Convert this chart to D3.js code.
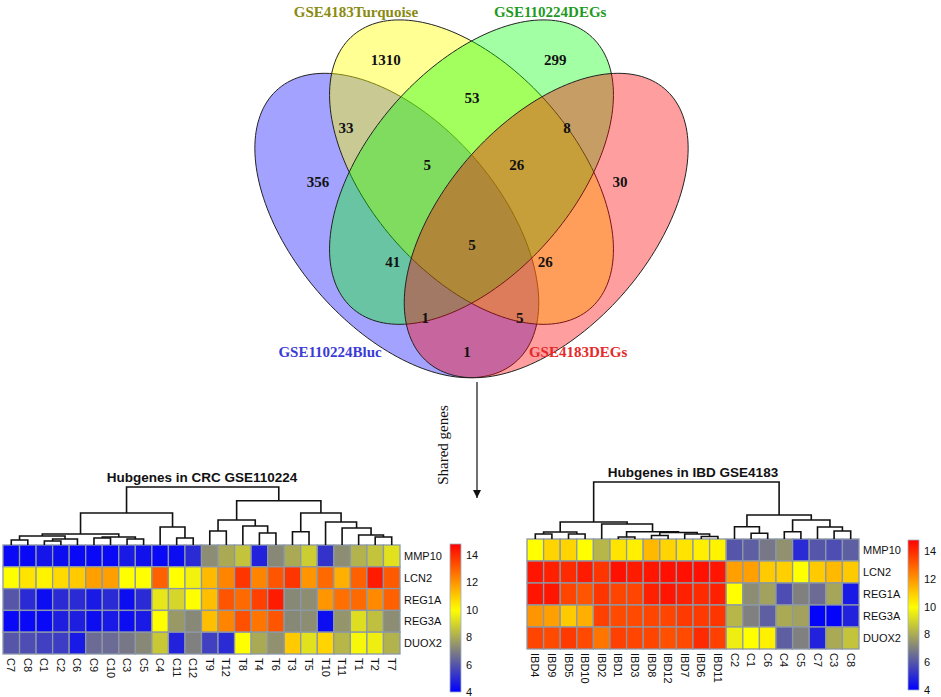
<!DOCTYPE html>
<html><head><meta charset="utf-8">
<script src="https://cdn.jsdelivr.net/npm/d3@7"></script>
<style>html,body{margin:0;padding:0;background:#fff;}svg{display:block;}</style>
</head><body>
<svg id="fig" width="941" height="697"></svg>
<script>
// ---------------- DATA ----------------
const vennSets = ["GSE110224Bluc", "GSE4183Turquoise", "GSE110224DEGs", "GSE4183DEGs"];
const vennRegions = ["A", "B", "C", "D", "AB", "BC", "CD", "ABC", "BCD", "ABCD", "AC", "BD", "ACD", "ABD", "AD"];
const vennCounts = [356, 1310, 299, 30, 33, 53, 8, 5, 26, 5, 41, 26, 1, 5, 1];

const genes = ["MMP10", "LCN2", "REG1A", "REG3A", "DUOX2"];
const crcSamples = ["C7","C8","C1","C2","C6","C9","C10","C3","C5","C4","C11","C12","T9","T12","T8","T4","T6","T3","T5","T10","T11","T1","T2","T7"];
const crcMMP10 = [4.2,4.2,4.5,4.3,4.2,4.2,4.2,4.6,4.4,4.2,4.3,5.0,7.3,8.0,8.6,4.8,7.2,8.0,8.8,5.2,7.3,8.2,8.6,9.3];
const crcLCN2  = [10.0,10.5,10.2,10.7,11.0,11.8,11.8,10.0,10.0,13.0,10.0,9.7,11.3,12.3,13.8,12.3,13.2,13.8,12.0,12.8,11.5,13.0,14.3,13.1];
const crcREG1A = [6.0,5.0,4.3,5.0,5.0,4.6,5.0,4.3,5.0,9.4,9.0,10.0,11.2,13.2,12.8,13.6,14.3,7.2,7.3,12.0,12.7,12.8,12.2,13.0];
const crcREG3A = [4.2,4.2,4.2,4.7,4.7,4.3,4.6,4.3,4.6,10.0,7.6,7.2,11.2,12.3,13.3,12.6,13.2,7.2,7.3,4.3,7.5,9.2,8.5,7.3];
const crcDUOX2 = [6.0,5.8,5.5,5.4,4.6,6.5,6.5,6.8,7.2,8.7,4.8,7.0,5.5,5.0,10.0,8.0,7.4,11.0,9.3,10.8,8.3,9.8,9.6,8.2];

const ibdSamples = ["IBD4","IBD9","IBD5","IBD10","IBD2","IBD1","IBD3","IBD8","IBD12","IBD7","IBD6","IBD11","C2","C1","C6","C4","C5","C7","C3","C8"];
const ibdMMP10 = [10.0,10.8,10.8,10.0,8.3,10.5,10.3,11.3,10.8,10.5,10.3,10.2,6.0,6.2,6.8,7.4,5.0,6.0,5.8,6.2];
const ibdLCN2  = [14.4,14.2,14.0,14.3,13.8,14.5,14.3,14.4,14.5,14.5,14.5,14.4,11.8,11.8,11.0,10.9,10.0,11.0,11.3,11.0];
const ibdREG1A = [14.4,14.4,13.5,13.2,13.8,13.5,13.5,14.2,14.4,14.2,14.0,14.2,10.0,7.3,7.8,5.8,7.0,6.5,7.9,4.6];
const ibdREG3A = [12.0,11.8,11.0,11.5,13.6,13.4,13.4,13.5,13.5,13.7,13.7,13.8,8.3,7.0,6.2,8.0,7.8,4.1,4.1,4.8];
const ibdDUOX2 = [13.5,13.4,13.7,13.4,12.6,13.6,13.5,13.5,13.3,13.4,14.0,13.6,9.6,10.0,10.3,6.2,7.0,4.8,8.0,8.6];

// dendrograms: [mergeHeight, left, right]; leaves are sample names
const crcTree = [58,
  [32, [11, [9, [5,"C7","C8"], [6,[4,"C1","C2"],"C6"]], [8, [7,"C9","C10"], [6,"C3","C5"]]], [18, "C4", [7,"C11","C12"]]],
  [44.3, [25, [14,"T9","T12"], [19,"T8",[12,"T4","T6"]]],
         [32, [13.3,"T3","T5"], [23,"T10",[17,"T11",[10,"T1",[8,"T2","T7"]]]]]]];
const ibdTree = [57,
  [17, [7,[5,"IBD4","IBD9"],[5,"IBD5","IBD10"]],
       [15,"IBD2",[7.3,[2,"IBD1","IBD3"],[6.5,[3.5,"IBD8","IBD12"],[5,"IBD7",[2.5,"IBD6","IBD11"]]]]]],
  [24, [12.3,"C2",[5.7,"C1","C6"]], [19,[7.3,"C4","C5"],[12,"C7",[8,"C3","C8"]]]]];

const colorTicks = [4, 6, 8, 10, 12, 14];

// ---------------- LAYOUT / STYLE ----------------
const svg = d3.select("#fig");
const colorScale = d3.scaleLinear().domain([4, 7, 10, 14.8])
  .range(["#0000ff", "#808080", "#ffff00", "#ff0000"]).clamp(true);

// ---- Venn ----
const vx = d3.scaleLinear().domain([0, 1]).range([471.5 - 249, 471.5 + 249]);
const vy = d3.scaleLinear().domain([0, 1]).range([-57.5 + 534, -57.5]);
const ellipses = [
  {key: "A", cx: 0.35, cy: 0.47, rot: 135, fill: "#0000ff", op: 0.36},
  {key: "B", cx: 0.50, cy: 0.57, rot: 135, fill: "#ffff00", op: 0.42},
  {key: "C", cx: 0.50, cy: 0.57, rot: 45,  fill: "#00ff00", op: 0.36},
  {key: "D", cx: 0.65, cy: 0.47, rot: 45,  fill: "#ff0000", op: 0.38}
];
const ea = 0.35, eb = 0.2;
const ellLine = d3.line().x(p => vx(p[0])).y(p => vy(p[1])).curve(d3.curveLinearClosed);
const gV = svg.append("g");
ellipses.forEach(e => {
  const r = e.rot * Math.PI / 180;
  const pts = d3.range(0, 360, 2).map(t => {
    const th = t * Math.PI / 180;
    return [e.cx + ea * Math.cos(th) * Math.cos(r) - eb * Math.sin(th) * Math.sin(r),
            e.cy + ea * Math.cos(th) * Math.sin(r) + eb * Math.sin(th) * Math.cos(r)];
  });
  gV.append("path").attr("d", ellLine(pts)).attr("fill", e.fill).attr("fill-opacity", e.op)
    .attr("stroke", "#222").attr("stroke-width", 1);
});
const regionPos = {
  A:[0.192,0.551], B:[0.328,0.780], C:[0.668,0.780], D:[0.798,0.551],
  AB:[0.248,0.653], BC:[0.501,0.709], CD:[0.692,0.653], ABC:[0.411,0.583], BCD:[0.591,0.583],
  ABCD:[0.501,0.434], AC:[0.342,0.402], BD:[0.648,0.402], ACD:[0.407,0.297], ABD:[0.597,0.297], AD:[0.491,0.233]
};
vennRegions.forEach((k, i) => {
  gV.append("text").attr("x", vx(regionPos[k][0])).attr("y", vy(regionPos[k][1]))
    .attr("text-anchor", "middle").attr("dominant-baseline", "central")
    .attr("font-family", "Liberation Serif, Times New Roman, serif").attr("font-weight", "bold")
    .attr("font-size", 15).attr("fill", "#111").text(vennCounts[i]);
});
const catPos = [[0.216,0.233], [0.268,0.870], [0.658,0.870], [0.714,0.233]];
const catColors = ["#3b3bd6", "#8a8a10", "#1f9a1f", "#e42a2a"];
vennSets.forEach((s, i) => {
  gV.append("text").attr("x", vx(catPos[i][0])).attr("y", vy(catPos[i][1]))
    .attr("text-anchor", "middle").attr("dominant-baseline", "central")
    .attr("font-family", "Liberation Serif, Times New Roman, serif").attr("font-weight", "bold")
    .attr("font-size", 15).attr("fill", catColors[i]).text(s);
});

// ---- arrow ----
svg.append("defs").append("marker").attr("id", "ah").attr("viewBox", "0 0 10 10")
  .attr("refX", 10).attr("refY", 5).attr("markerWidth", 8).attr("markerHeight", 9)
  .attr("markerUnits", "userSpaceOnUse").attr("orient", "auto")
  .append("path").attr("d", "M0,0 L10,5 L0,10 Z").attr("fill", "#111");
svg.append("line").attr("x1", 477).attr("x2", 477).attr("y1", 382).attr("y2", 498)
  .attr("stroke", "#111").attr("stroke-width", 1.2).attr("marker-end", "url(#ah)");
svg.append("text").attr("transform", "translate(443,445) rotate(-90)")
  .attr("text-anchor", "middle").attr("dominant-baseline", "central")
  .attr("font-family", "Liberation Serif, Times New Roman, serif").attr("font-size", 15)
  .attr("fill", "#111").text("Shared genes");

// ---- heatmaps ----
const defs = svg.select("defs");
function heatmap(opt) {
  const g = svg.append("g");
  const x = d3.scaleBand().domain(opt.samples).range([opt.x0, opt.x1]);
  const y = d3.scaleBand().domain(genes).range([opt.y0, opt.y1]);
  genes.forEach((gn, gi) => {
    opt.rows[gi].forEach((v, si) => {
      g.append("rect").attr("x", x(opt.samples[si])).attr("y", y(gn))
        .attr("width", x.bandwidth()).attr("height", y.bandwidth())
        .attr("fill", colorScale(v)).attr("stroke", "#8d98a6").attr("stroke-width", 1.3);
    });
    g.append("text").attr("x", opt.x1 + 4).attr("y", y(gn) + y.bandwidth() / 2)
      .attr("dominant-baseline", "central").attr("font-family", "Liberation Sans, Arial, sans-serif")
      .attr("font-size", 11).attr("fill", "#111").text(gn);
  });
  opt.samples.forEach(s => {
    const cx = x(s) + x.bandwidth() / 2;
    g.append("text").attr("transform", `translate(${cx},${opt.y1 + 4}) rotate(90)`)
      .attr("dominant-baseline", "central").attr("font-family", "Liberation Sans, Arial, sans-serif")
      .attr("font-size", 11).attr("fill", "#111").text(s);
  });
  const hy = d3.scaleLinear().domain([0, opt.tree[0]]).range([opt.y0, opt.dTop]);
  const dg = g.append("g").attr("stroke", "#111").attr("stroke-width", 1.6).attr("fill", "none");
  function walk(node) {
    if (typeof node === "string") return {x: x(node) + x.bandwidth() / 2, h: 0};
    const a = walk(node[1]), b = walk(node[2]);
    const yy = hy(node[0]);
    dg.append("path").attr("d", `M${a.x},${hy(a.h)}V${yy}H${b.x}V${hy(b.h)}`);
    return {x: (a.x + b.x) / 2, h: node[0]};
  }
  walk(opt.tree);
  g.append("text").attr("x", opt.titleX).attr("y", opt.titleY).attr("text-anchor", "middle")
    .attr("font-family", "Liberation Sans, Arial, sans-serif").attr("font-weight", "bold")
    .attr("font-size", 13.5).attr("fill", "#111").text(opt.title);
  const cb = d3.scaleLinear().domain([4, 14.8]).range([opt.cbY1, opt.cbY0]);
  const gid = "grad" + opt.id;
  const grad = defs.append("linearGradient").attr("id", gid).attr("x1", 0).attr("x2", 0).attr("y1", 1).attr("y2", 0);
  d3.range(0, 1.0001, 0.05).forEach(t => {
    const v = 4 + t * 10.8;
    grad.append("stop").attr("offset", t).attr("stop-color", colorScale(v));
  });
  g.append("rect").attr("x", opt.cbX).attr("y", opt.cbY0).attr("width", 11).attr("height", opt.cbY1 - opt.cbY0)
    .attr("fill", `url(#${gid})`).attr("stroke", "#9fb0c8").attr("stroke-width", 0.8);
  colorTicks.forEach(t => {
    g.append("text").attr("x", opt.cbX + 16).attr("y", cb(t)).attr("dominant-baseline", "central")
      .attr("font-family", "Liberation Sans, Arial, sans-serif").attr("font-size", 11)
      .attr("fill", "#111").text(t);
  });
}

heatmap({id: "crc", samples: crcSamples, rows: [crcMMP10, crcLCN2, crcREG1A, crcREG3A, crcDUOX2],
  x0: 3, x1: 400, y0: 545, y1: 654, tree: crcTree, dTop: 487,
  title: "Hubgenes in CRC GSE110224", titleX: 202, titleY: 482,
  cbX: 450, cbY0: 544, cbY1: 692});
heatmap({id: "ibd", samples: ibdSamples, rows: [ibdMMP10, ibdLCN2, ibdREG1A, ibdREG3A, ibdDUOX2],
  x0: 527, x1: 859, y0: 539, y1: 649, tree: ibdTree, dTop: 482,
  title: "Hubgenes in IBD GSE4183", titleX: 693, titleY: 477,
  cbX: 908, cbY0: 540, cbY1: 690});
</script>
</body></html>
